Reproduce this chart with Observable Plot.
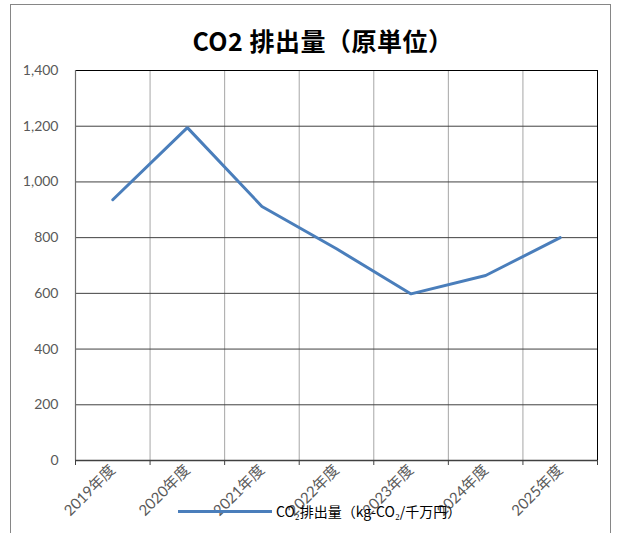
<!DOCTYPE html>
<html><head><meta charset="utf-8">
<script src="https://cdn.jsdelivr.net/npm/d3@7"></script>
<script src="https://cdn.jsdelivr.net/npm/@observablehq/plot@0.6"></script>
<style>
body{margin:0;background:#fff;}
#wrap{position:relative;width:619px;height:533px;overflow:hidden;}
#border{position:absolute;left:10px;top:4px;width:601px;height:560px;border:1px solid #868686;box-sizing:border-box;}
#title{position:absolute;left:0;width:646px;top:22px;text-align:center;font:bold 25px "Noto Sans CJK JP";color:#000;letter-spacing:0.5px;}
#chart{position:absolute;left:0;top:0;}
#legend{position:absolute;left:178px;top:501px;display:flex;align-items:center;font:14px "Noto Sans CJK JP";color:#000;}
#legend .sw{width:94px;height:3px;background:#4a7ebb;margin-right:4px;}
</style></head>
<body>
<div id="wrap">
  <div id="border"></div>
  <div id="chart"></div>
  <div id="title">CO2 排出量（原単位）</div>
  <div id="legend"><span class="sw"></span><span id="legtext"></span></div>
</div>
<script>
const categories = ["2019年度","2020年度","2021年度","2022年度","2023年度","2024年度","2025年度"];
const values = [936, 1195, 912, 760, 598, 664, 800];
const yTicks = [0, 200, 400, 600, 800, 1000, 1200, 1400];
const seriesName = "CO₂排出量（kg-CO₂/千万円）";

document.getElementById("legtext").textContent = seriesName;

const data = categories.map((c, i) => ({i, c, v: values[i]}));
const idx = categories.map((_, i) => i);
const bounds = categories.map((_, i) => i - 0.5).concat([categories.length - 0.5]);
const n = categories.length;

const chart = Plot.plot({
  width: 619,
  height: 533,
  marginLeft: 75,
  marginRight: 22,
  marginTop: 70,
  marginBottom: 73,
  style: {fontFamily: "Lato, 'Noto Sans CJK JP', sans-serif", fontSize: "14px", background: "transparent"},
  x: {type: "linear", domain: [-0.5, n - 0.5], axis: null, label: null},
  y: {domain: [0, 1400], axis: null, label: null},
  marks: [
    Plot.ruleX(bounds.slice(1, -1), {stroke: "#a6a6a6", strokeWidth: 1}),
    Plot.ruleY(yTicks.slice(1, -1), {stroke: "#404040", strokeWidth: 1}),
    Plot.ruleY([1400], {stroke: "#000", strokeWidth: 1}),
    Plot.ruleX([n - 0.5], {stroke: "#000", strokeWidth: 1}),
    Plot.ruleX([-0.5], {stroke: "#6e6e6e", strokeWidth: 1.2}),
    Plot.ruleY([0], {stroke: "#404040", strokeWidth: 1.5}),
    Plot.axisX(bounds, {tickSize: 5, tickFormat: () => "", stroke: "#404040", label: null}),
    Plot.line(data, {x: "i", y: "v", stroke: "#4a7ebb", strokeWidth: 3, strokeLinejoin: "miter"}),
    Plot.axisY(yTicks, {tickSize: 0, tickPadding: 17, tickFormat: d3.format(","), fill: "#595959", fontSize: 14, label: null}),
    Plot.axisX(idx, {tickSize: 0, tickPadding: 7, tickRotate: -45, tickFormat: i => categories[i], fill: "#595959", fontSize: 15, label: null})
  ]
});
document.getElementById("chart").appendChild(chart);
</script>
</body></html>
